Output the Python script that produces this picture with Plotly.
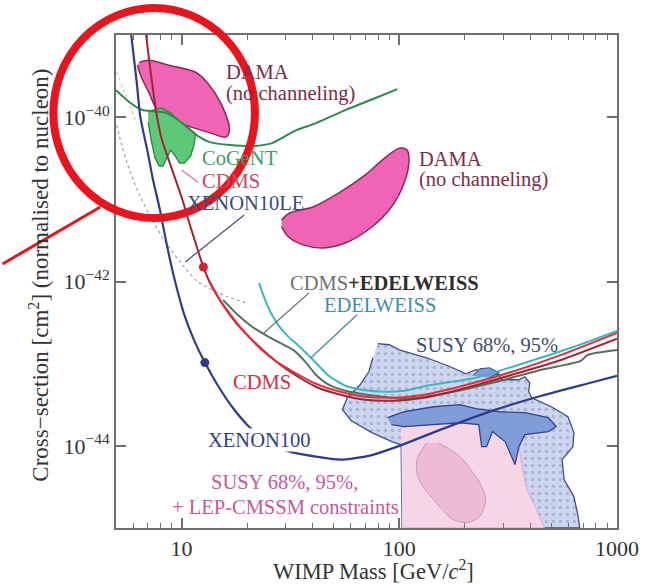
import plotly.graph_objects as go

# ---------------- data (WIMP mass in GeV/c^2, cross-section in cm^2) ----------------
xenon100_mass = [5.77, 6.21, 6.47, 6.96, 7.40, 7.96, 8.56, 9.30, 10.3, 11.4, 12.8, 14.7, 17.2, 20.0,
                 24.2, 30.3, 41.4, 53.7, 73.3, 95.0, 159.5, 267.9, 450.1, 755.8, 1000]
xenon100_xsec = [1.5e-39, 2.82e-40, 1.0e-40, 3.97e-41, 1.72e-41, 7.41e-42, 2.79e-42, 1.05e-42, 3.93e-43,
                 1.95e-43, 1.03e-43, 5.39e-44, 2.91e-44, 1.81e-44, 1.16e-44, 8.74e-45, 7.39e-45, 6.79e-45,
                 7.60e-45, 9.51e-45, 1.62e-44, 2.68e-44, 4.07e-44, 5.86e-44, 7.13e-44]

cdms_low_mass = [6.75, 7.10, 7.40, 7.72, 8.13, 8.74, 9.40, 10.1, 10.75, 11.6, 12.6, 13.8, 15.5, 18.1, 21.1,
                 24.7, 28.8, 33.7, 41.4, 53.7, 69.6, 95.0, 129.6, 196.2, 329.6, 553.8, 1000]
cdms_low_xsec = [1.5e-39, 4.93e-40, 2.13e-40, 1.0e-40, 5.26e-41, 3.00e-41, 1.72e-41, 9.81e-42, 5.60e-42,
                 2.94e-42, 1.50e-42, 8.60e-43, 5.20e-43, 2.97e-43, 1.95e-43, 1.32e-43, 9.43e-44, 7.13e-44,
                 5.24e-44, 4.19e-44, 3.64e-44, 3.54e-44, 3.85e-44, 4.95e-44, 7.33e-44, 1.11e-43, 2.01e-43]

cdms_mass = [13.5, 15.0, 17.2, 20.0, 23.4, 27.4, 32.6, 41.4, 53.7, 69.6, 95.0, 129.6, 196.2, 329.6, 553.8, 1000]
cdms_xsec = [9.89e-43, 5.97e-43, 3.61e-43, 2.24e-43, 1.47e-43, 1.05e-43, 7.97e-44, 5.70e-44, 4.56e-44,
             3.96e-44, 3.85e-44, 4.19e-44, 5.39e-44, 7.97e-44, 1.28e-43, 2.37e-43]

cdms_edw_mass = [15.5, 18.1, 21.1, 24.7, 28.8, 32.6, 37.3, 41.4, 47.4, 56.5, 77.2, 105.3, 159.5, 267.9,
                 450.1, 681.4, 733, 1000]
cdms_edw_xsec = [5.97e-43, 3.93e-43, 2.81e-43, 2.18e-43, 1.75e-43, 1.47e-43, 1.03e-43, 7.33e-44, 5.54e-44,
                 4.69e-44, 4.07e-44, 3.75e-44, 4.31e-44, 5.86e-44, 8.43e-44, 1.08e-43, 1.28e-43, 1.47e-43]

edelweiss_mass = [22.7, 24.2, 26.0, 28.2, 31.0, 33.7, 39.3, 47.4, 56.5, 67.4, 85.6, 105.3, 133.7, 224.6,
                  365.6, 614.3, 1000]
edelweiss_xsec = [9.61e-43, 5.97e-43, 3.93e-43, 2.81e-43, 2.12e-43, 1.75e-43, 1.18e-43, 7.13e-44, 5.39e-44,
                  4.82e-44, 4.56e-44, 4.69e-44, 5.39e-44, 6.74e-44, 9.97e-44, 1.56e-43, 2.51e-43]

cogent_line_mass = [5.0, 5.77, 6.60, 7.48, 8.30, 9.40, 10.75, 11.9, 13.5, 16.8, 21.1, 26.0, 33.7, 41.4,
                    56.5, 77.2, 98.0]
cogent_line_xsec = [2.13e-40, 1.52e-40, 1.22e-40, 1.18e-40, 1.15e-40, 9.72e-41, 7.35e-41, 5.88e-41, 4.97e-41,
                    4.57e-41, 4.44e-41, 4.83e-41, 6.95e-41, 8.45e-41, 1.22e-40, 1.70e-40, 2.19e-40]

cogent_region_mass = [7.03, 7.56, 8.13, 8.92, 9.69, 10.75, 11.6, 11.4, 11.0, 10.3, 9.79, 9.30, 8.92, 8.56,
                      8.21, 7.88, 7.56, 7.25, 7.03]
cogent_region_xsec = [1.15e-40, 1.25e-40, 1.29e-40, 1.12e-40, 9.20e-41, 7.35e-41, 6.22e-41, 4.57e-41,
                      3.36e-41, 2.76e-41, 2.76e-41, 3.45e-41, 3.97e-41, 3.18e-41, 2.54e-41, 2.54e-41,
                      3.18e-41, 5.26e-41, 8.69e-41]

dama_hi_mass = [6.40, 7.10, 8.74, 11.6, 13.2, 15.15, 16.6, 15.95, 13.65, 11.1, 9.01, 7.72, 7.10, 6.54, 6.27]
dama_hi_xsec = [4.66e-40, 4.93e-40, 4.28e-40, 3.52e-40, 2.59e-40, 1.48e-40, 6.95e-41, 5.71e-41, 6.39e-41,
                7.56e-41, 9.20e-41, 1.22e-40, 1.96e-40, 3.06e-40, 4.28e-40]

dama_lo_mass = [28.8, 31.3, 40.1, 52.6, 69.6, 85.6, 100, 108.6, 110.9, 105.3, 92.0, 74.8, 56.5, 44.5,
                36.2, 31.0, 28.8]
dama_lo_xsec = [5.60e-42, 6.82e-42, 8.06e-42, 1.19e-41, 1.97e-41, 3.18e-41, 4.20e-41, 3.97e-41, 3.00e-41,
                1.58e-41, 8.06e-42, 4.61e-42, 2.94e-42, 2.56e-42, 2.79e-42, 3.48e-42, 4.61e-42]

susy95_mass = [79.6, 90.2, 100, 110.9, 133.7, 171.5, 202.4, 224.6, 241.5, 288.0, 297.2, 354.4, 377.2, 397.2,
               393.1, 405.5, 499.2, 595.5, 633.8, 627.2, 559.5, 571.3, 633.8, 660.6, 674.4, 103, 102, 93.0,
               74.8, 60.2, 54.8, 57.7, 66.1, 72.5, 75.6]
susy95_xsec = [1.75e-43, 1.70e-43, 1.47e-43, 1.36e-43, 1.18e-43, 9.17e-44, 7.54e-44, 8.43e-44, 7.97e-44,
               7.33e-44, 6.37e-44, 6.37e-44, 6.93e-44, 5.86e-44, 4.56e-44, 3.85e-44, 2.99e-44, 2.26e-44,
               1.45e-44, 9.78e-45, 6.79e-45, 3.88e-45, 2.41e-45, 1.46e-45, 1.0e-45, 1.0e-45, 1.03e-44,
               1.12e-44, 1.45e-44, 2.02e-44, 2.75e-44, 3.85e-44, 5.54e-44, 7.97e-44, 1.18e-43]

susy68_mass = [88.3, 105.3, 143.8, 190.2, 224.6, 288.0, 377.2, 483.9, 525.8, 483.9, 377.2, 354.4, 340.0,
               306.6, 267.9, 251.8, 239.0, 231.7, 190.2, 143.8, 105.3, 92.0]
susy68_xsec = [2.20e-44, 2.60e-44, 2.99e-44, 3.17e-44, 2.83e-44, 2.60e-44, 2.53e-44, 2.20e-44, 1.71e-44,
               1.49e-44, 1.37e-44, 9.78e-45, 5.91e-45, 1.12e-44, 1.49e-44, 9.78e-45, 9.78e-45, 1.81e-44,
               1.91e-44, 1.81e-44, 1.71e-44, 1.81e-44]

susy68_patch_mass = [217.7, 234.1, 259.7, 288.0, 259.7]
susy68_patch_xsec = [7.13e-44, 8.67e-44, 8.91e-44, 7.75e-44, 6.74e-44]

lep95_mass = [102, 129.6, 196.2, 267.9, 336.5, 354.4, 365.6, 385.1, 427.1, 464.2, 103]
lep95_xsec = [1.66e-44, 2.02e-44, 2.26e-44, 2.14e-44, 1.81e-44, 1.03e-44, 5.91e-45, 2.94e-45, 1.68e-45,
              1.0e-45, 1.0e-45]

lep68_mass = [133.7, 120.5, 123.1, 143.8, 176.9, 206.7, 234.1, 249.2, 236.5, 217.7, 192.2, 171.5, 151.5]
lep68_xsec = [1.09e-44, 6.79e-45, 3.88e-45, 2.22e-45, 1.27e-45, 1.17e-45, 1.38e-45, 2.22e-45, 3.38e-45,
              4.72e-45, 7.19e-45, 8.99e-45, 1.09e-44]

xenon10le_mass = [5.04, 5.31, 5.77, 6.40, 7.25, 8.30, 9.69, 11.9, 15.5, 19.6]
xenon10le_xsec = [8.0e-41, 4.57e-41, 2.27e-41, 1.13e-41, 5.93e-42, 3.20e-42, 1.83e-42, 9.89e-43, 6.87e-43, 5.50e-43]

faint_mass = [5.04, 5.59, 6.21]
faint_xsec = [3.52e-40, 1.75e-40, 8.45e-41]

axis_dot_mass = [5.0, 5.0, 5.0]
axis_dot_xsec = [3.83e-40, 2.13e-40, 8.94e-41]
curve_dot_mass = [12.8, 12.6]
curve_dot_xsec = [1.03e-43, 1.50e-42]

ptr_xenon10le = ([19.4, 10.4], [6.44e-42, 1.73e-42])
ptr_cdms = ([11.9, 10.0], [1.62e-41, 2.27e-41])
ptr_cdms_edw = ([38.5, 23.9], [7.27e-43, 2.37e-43])
ptr_edw = ([64.0, 39.3], [3.93e-43, 1.18e-43])

x_tick_vals = [10, 100, 1000]
x_tick_text = ["10", "100", "1000"]
x_minor_vals = [6, 7, 8, 9, 20, 30, 40, 50, 60, 70, 80, 90, 200, 300, 400, 500, 600, 700, 800, 900]
y_tick_vals = [1e-40, 1e-42, 1e-44]
y_tick_text = ["10<sup>−40</sup>", "10<sup>−42</sup>", "10<sup>−44</sup>"]

# ---------------- figure ----------------
FONT = "Liberation Serif, Times New Roman, serif"
AX = "#6f6f6f"
fig = go.Figure()


def region(x, y, fill, line, width=1.3, spline=False, pattern=None):
    fig.add_trace(go.Scatter(
        x=x, y=y, mode="lines", fill="toself", fillcolor=fill,
        line=dict(color=line, width=width, shape="spline" if spline else "linear", smoothing=0.9),
        fillpattern=pattern, hoverinfo="skip", showlegend=False))


def curve(x, y, color, width=2.0, dash="solid", spline=True):
    fig.add_trace(go.Scatter(
        x=x, y=y, mode="lines",
        line=dict(color=color, width=width, dash=dash, shape="spline" if spline else "linear", smoothing=0.6),
        hoverinfo="skip", showlegend=False))


region(susy95_mass, susy95_xsec, "#cdd5ef", "#3f4f88", 1.3,
       pattern=dict(shape=".", bgcolor="#cdd5ef", fgcolor="#8595c8", size=7, solidity=0.2))
region(lep95_mass, lep95_xsec, "#f6d6e6", "#d9a8c4", 1.0)
region(susy68_mass, susy68_xsec, "#7f9ddb", "#34448a", 1.3)
region(susy68_patch_mass, susy68_patch_xsec, "#7f9ddb", "#34448a", 1.0)
region(lep68_mass, lep68_xsec, "#eebbd6", "#c99ab8", 1.0, spline=True)
region(dama_hi_mass, dama_hi_xsec, "#f064b6", "#8a2b52", 1.5, spline=True)
region(dama_lo_mass, dama_lo_xsec, "#f064b6", "#8a2b52", 1.5, spline=True)
region(cogent_region_mass, cogent_region_xsec, "#5dc878", "#2f7f45", 1.3)

curve(xenon10le_mass, xenon10le_xsec, "#a0a0a8", 1.2, dash="dot")
curve(faint_mass, faint_xsec, "#d8a0a8", 1.0, dash="dot")
curve(cogent_line_mass, cogent_line_xsec, "#2f8a50", 2.0)
curve(cdms_edw_mass, cdms_edw_xsec, "#55705c", 2.0)
curve(edelweiss_mass, edelweiss_xsec, "#3cb7c0", 2.0)
curve(cdms_low_mass, cdms_low_xsec, "#a02533", 2.0)
curve(cdms_mass, cdms_xsec, "#e3303f", 2.0)
curve(xenon100_mass, xenon100_xsec, "#2f3c8c", 2.2)

for (px_, py_), col in [(ptr_xenon10le, "#4a5670"), (ptr_cdms, "#d08090"),
                        (ptr_cdms_edw, "#5a6a60"), (ptr_edw, "#4a8a9a")]:
    curve(px_, py_, col, 1.3, spline=False)

fig.add_trace(go.Scatter(x=axis_dot_mass, y=axis_dot_xsec, mode="markers", cliponaxis=False,
                         marker=dict(size=9, color=["#d8202e", "#2f8a50", "#2f3c8c"]),
                         hoverinfo="skip", showlegend=False))
fig.add_trace(go.Scatter(x=curve_dot_mass, y=curve_dot_xsec, mode="markers",
                         marker=dict(size=9, color=["#2f3c8c", "#d8202e"]),
                         hoverinfo="skip", showlegend=False))

axis_common = dict(showline=True, linecolor=AX, linewidth=2, mirror="ticks", ticks="inside",
                   ticklen=10, tickwidth=1.5, tickcolor=AX, showgrid=False, zeroline=False,
                   tickfont=dict(family=FONT, size=22, color="#333"))
fig.update_xaxes(type="log", range=[0.699, 3.0], tickvals=x_tick_vals, ticktext=x_tick_text,
                 minor=dict(tickvals=x_minor_vals, ticks="inside", ticklen=5, tickcolor=AX, tickwidth=1.2,
                            showgrid=False),
                 **axis_common)
fig.update_yaxes(type="log", range=[-45, -39], tickvals=y_tick_vals, ticktext=y_tick_text, **axis_common)


def px_x(p):
    return (p - 116) / 512.0


def px_y(p):
    return (528 - p) / 493.0


labels = [
    ("DAMA", 227, 72, "#7b2d45", "left", None),
    ("(no channeling)", 227, 93, "#7b2d45", "left", None),
    ("DAMA", 425, 159, "#7b2d45", "left", None),
    ("(no channeling)", 425, 180, "#7b2d45", "left", None),
    ("CoGeNT", 203, 158, "#3f9a62", "left", None),
    ("CDMS", 203, 181, "#d0455a", "left", None),
    ("XENON10LE", 188, 203, "#3a4a88", "left", None),
    ("<span style='color:#707070'>CDMS</span><b>+EDELWEISS</b>", 293, 283, "#2e2e2e", "left", None),
    ("EDELWEISS", 328, 305, "#3f8fa8", "left", None),
    ("SUSY 68%, 95%", 422, 345, "#3d4d72", "left", None),
    ("CDMS", 235, 382, "#d0303e", "left", None),
    ("XENON100", 209, 440, "#34408a", "left", "white"),
    ("SUSY 68%, 95%,", 288, 482, "#c45a9c", "center", None),
    ("+ LEP-CMSSM constraints", 289, 507, "#c45a9c", "center", None),
]
for text, lx, ly, col, anchor, bg in labels:
    fig.add_annotation(text=text, xref="paper", yref="paper", x=px_x(lx), y=px_y(ly),
                       xanchor=anchor, yanchor="middle", showarrow=False, borderpad=0,
                       bgcolor=bg, font=dict(family=FONT, size=20.5, color=col))

fig.add_annotation(text="WIMP Mass [GeV/<i>c</i><sup>2</sup>]", xref="paper", yref="paper",
                   x=px_x(379), y=px_y(570), xanchor="center", yanchor="middle", showarrow=False,
                   font=dict(family=FONT, size=22.5, color="#333"))
fig.add_annotation(text="Cross−section [cm<sup>2</sup>] (normalised to nucleon)", xref="paper", yref="paper",
                   x=px_x(37), y=px_y(275), xanchor="center", yanchor="middle", showarrow=False,
                   textangle=-90, font=dict(family=FONT, size=23, color="#333"))

# red highlight circle and pointer
fig.add_shape(type="circle", xref="paper", yref="paper", x0=px_x(52), x1=px_x(258), y0=px_y(218), y1=px_y(8),
              line=dict(color="#e8141e", width=8), layer="above")
fig.add_shape(type="line", xref="paper", yref="paper", x0=px_x(0), y0=px_y(264), x1=px_x(100), y1=px_y(207),
              line=dict(color="#e8141e", width=3), layer="above")

fig.update_layout(width=651, height=586, margin=dict(l=116, r=23, t=35, b=58),
                  paper_bgcolor="white", plot_bgcolor="white", showlegend=False,
                  font=dict(family=FONT, color="#333"))

fig.write_html("out.html")
